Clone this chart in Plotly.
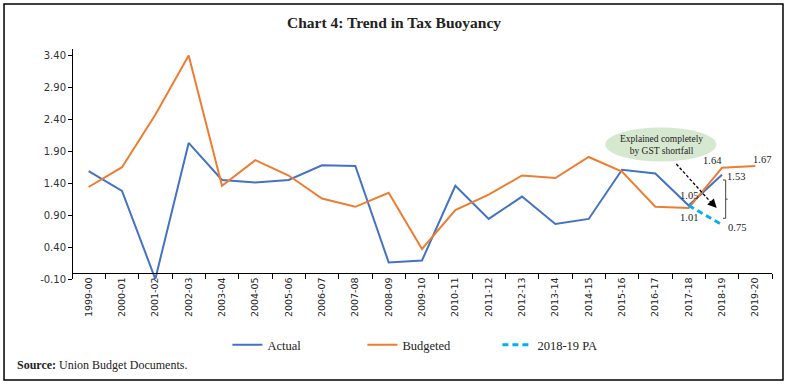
import plotly.graph_objects as go

categories = ["1999-00", "2000-01", "2001-02", "2002-03", "2003-04", "2004-05", "2005-06",
              "2006-07", "2007-08", "2008-09", "2009-10", "2010-11", "2011-12", "2012-13",
              "2013-14", "2014-15", "2015-16", "2016-17", "2017-18", "2018-19", "2019-20"]
actual = [1.59, 1.28, -0.10, 2.03, 1.45, 1.41, 1.45, 1.68, 1.67, 0.16, 0.19, 1.36, 0.84,
          1.19, 0.76, 0.84, 1.61, 1.55, 1.05, 1.53, None]
budgeted = [1.34, 1.65, 2.47, 3.40, 1.36, 1.76, 1.52, 1.16, 1.03, 1.25, 0.37, 0.98, 1.22,
            1.52, 1.48, 1.81, 1.58, 1.03, 1.01, 1.64, 1.67]
pa = [None] * 18 + [1.05, 0.75, None]
y_ticks = [-0.10, 0.40, 0.90, 1.40, 1.90, 2.40, 2.90, 3.40]
y_tick_text = ["-0.10", "0.40", "0.90", "1.40", "1.90", "2.40", "2.90", "3.40"]

SERIF = "Liberation Serif"
SANS = "DejaVu Sans"
BLUE, ORANGE, LBLUE = "#4472C4", "#ED7D31", "#00B0F0"

fig = go.Figure()
fig.add_trace(go.Scatter(x=categories, y=actual, name="Actual", mode="lines",
                         line=dict(color=BLUE, width=2)))
fig.add_trace(go.Scatter(x=categories, y=budgeted, name="Budgeted", mode="lines",
                         line=dict(color=ORANGE, width=2)))
fig.add_trace(go.Scatter(x=categories, y=pa, name="2018-19 PA", mode="lines",
                         line=dict(color=LBLUE, width=3, dash="6px,4px")))

ann = []
def lab(x, y, text, xs, ys):
    ann.append(dict(x=x, y=y, text=text, showarrow=False, xshift=xs, yshift=ys,
                    font=dict(family=SERIF, size=10.5, color="#222")))

lab("2017-18", actual[18], "1.05", 0, 10)
lab("2017-18", budgeted[18], "1.01", 0, -9)
lab("2018-19", budgeted[19], "1.64", -10, 7)
lab("2019-20", budgeted[20], "1.67", 7, 6)
lab("2018-19", actual[19], "1.53", 14, -2)
lab("2018-19", pa[19], "0.75", 15, -3)

# ellipse note
fig.add_shape(type="circle", xref="x", yref="y", x0=15.5, x1=18.83, y0=1.74, y1=2.27,
              fillcolor="#d6e8d0", line=dict(width=0), layer="below")
ann.append(dict(x=17.17, y=2.005, text="Explained completely<br>by GST shortfall", showarrow=False,
                font=dict(family=SERIF, size=9.5, color="#222")))
# dashed arrow
fig.add_shape(type="line", xref="x", yref="y", x0=17.63, y0=1.70, x1=18.7, y1=1.08,
              line=dict(color="black", width=1.3, dash="3px,2px"))
ann.append(dict(x=18.84, y=1.01, ax=18.68, ay=1.10, axref="x", ayref="y", text="",
                showarrow=True, arrowhead=2, arrowsize=1.2, arrowwidth=1.5, arrowcolor="black"))
# bracket
fig.add_shape(type="path", xref="x", yref="y",
              path="M 19.03 1.45 L 19.11 1.45 L 19.11 0.85 L 19.03 0.85",
              line=dict(color="#444", width=1))
fig.add_shape(type="line", xref="x", yref="y", x0=19.11, x1=19.17, y0=1.15, y1=1.15,
              line=dict(color="#444", width=1))

# border
fig.add_shape(type="rect", xref="paper", yref="paper", x0=-0.0971, x1=1.0157, y0=-0.4391, y1=1.1957,
              line=dict(color="black", width=1.5))

ann.append(dict(xref="paper", yref="paper", x=-0.0814, y=-0.374, xanchor="left", yanchor="middle",
                text="<b>Source:</b> Union Budget Documents.", showarrow=False,
                font=dict(family=SERIF, size=12, color="#222")))

fig.update_layout(
    width=788, height=386,
    margin=dict(l=72, r=16, t=49, b=107, autoexpand=False),
    paper_bgcolor="white", plot_bgcolor="white",
    title=dict(text="<b>Chart 4: Trend in Tax Buoyancy</b>", x=0.5, xanchor="center",
               y=1 - 22.7 / 386, yref="container", yanchor="middle",
               font=dict(family=SERIF, size=15.5, color="#222")),
    font=dict(family=SERIF, size=11, color="#222"),
    showlegend=True,
    legend=dict(orientation="h", x=0.222, xanchor="left", y=-0.287, yanchor="middle",
                font=dict(family=SERIF, size=12.5, color="#222"),
                entrywidth=90, entrywidthmode="pixels", bgcolor="rgba(0,0,0,0)"),
    annotations=ann,
    xaxis=dict(type="category", range=[-0.5, 20.5], anchor="free", position=0.1 / 3.6,
               showline=True, automargin=False,
               linecolor="black", linewidth=1, ticks="outside", tickson="boundaries",
               ticklen=5, tickcolor="black", tickangle=-90, showgrid=False, zeroline=False,
               tickfont=dict(family=SANS, size=9.5, color="#222")),
    yaxis=dict(range=[-0.1, 3.5], tickvals=y_ticks, ticktext=y_tick_text, anchor="free",
               position=0, automargin=False,
               showline=True, linecolor="black", linewidth=1, ticks="outside", ticklen=4,
               tickcolor="black", showgrid=False, zeroline=False,
               tickfont=dict(family=SANS, size=10, color="#333")),
)

fig.write_html("out.html", config={"displayModeBar": False},
               post_script="document.body.style.margin='0';document.body.style.overflow='hidden';")
